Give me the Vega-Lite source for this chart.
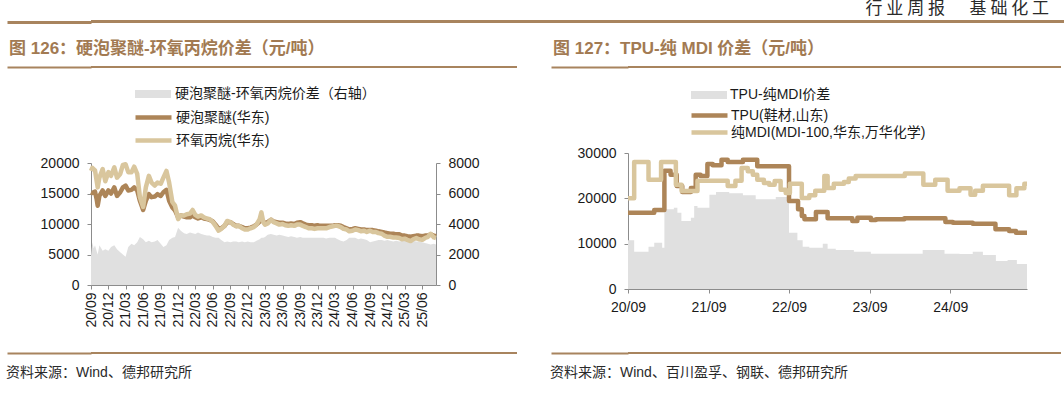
{
"$schema": "https://vega.github.io/schema/vega-lite/v6.json",
"background": "white",
"padding": {"left": 5, "right": 0, "top": 0, "bottom": 0},
"config": {
  "font": "Liberation Sans, Noto Sans CJK SC",
  "view": {"stroke": null},
  "axis": {"domainColor": "#8c8c8c", "tickColor": "#8c8c8c", "labelColor": "#1a1a1a", "labelFont": "Liberation Sans, Noto Sans CJK SC", "labelFontSize": 14, "grid": false, "tickSize": 4, "domainWidth": 1},
  "legend": {"labelFont": "Liberation Sans, Noto Sans CJK SC", "labelFontSize": 14, "labelColor": "#1a1a1a", "labelLimit": 400}
},
"datasets": {
  "left": [
    {"d":"2020-09-01","pe":15200,"po":18700,"sp":1900},
    {"d":"2020-09-08","pe":15100,"po":19200,"sp":2800},
    {"d":"2020-09-15","pe":15200,"po":19000,"sp":2400},
    {"d":"2020-09-22","pe":15300,"po":18800,"sp":2600},
    {"d":"2020-10-01","pe":14000,"po":17000,"sp":2200},
    {"d":"2020-10-06","pe":13000,"po":16000,"sp":2000},
    {"d":"2020-10-15","pe":14600,"po":17600,"sp":2600},
    {"d":"2020-11-01","pe":15500,"po":19000,"sp":2250},
    {"d":"2020-11-15","pe":14600,"po":17000,"sp":2350},
    {"d":"2020-12-01","pe":15500,"po":18500,"sp":2250},
    {"d":"2020-12-15","pe":15000,"po":17900,"sp":2500},
    {"d":"2021-01-01","pe":16000,"po":19300,"sp":2600},
    {"d":"2021-01-15","pe":14600,"po":17600,"sp":2350},
    {"d":"2021-02-01","pe":15200,"po":18200,"sp":2150},
    {"d":"2021-02-15","pe":16000,"po":19700,"sp":2000},
    {"d":"2021-03-01","pe":16300,"po":19800,"sp":1850},
    {"d":"2021-03-15","pe":15500,"po":18500,"sp":2500},
    {"d":"2021-04-01","pe":15600,"po":18500,"sp":2700},
    {"d":"2021-04-15","pe":16000,"po":19400,"sp":2600},
    {"d":"2021-05-01","pe":15500,"po":18200,"sp":2800},
    {"d":"2021-05-15","pe":13800,"po":14400,"sp":3150},
    {"d":"2021-06-01","pe":12300,"po":12800,"sp":3000},
    {"d":"2021-06-15","pe":13800,"po":16000,"sp":2800},
    {"d":"2021-07-01","pe":14900,"po":17900,"sp":2900},
    {"d":"2021-07-15","pe":14400,"po":16800,"sp":2800},
    {"d":"2021-08-01","pe":14500,"po":16300,"sp":2850},
    {"d":"2021-08-15","pe":14900,"po":16800,"sp":2950},
    {"d":"2021-09-01","pe":14600,"po":16600,"sp":2700},
    {"d":"2021-09-15","pe":15200,"po":17600,"sp":2500},
    {"d":"2021-10-01","pe":15600,"po":18700,"sp":2600},
    {"d":"2021-10-15","pe":13800,"po":16800,"sp":2950},
    {"d":"2021-11-01","pe":12700,"po":13600,"sp":3100},
    {"d":"2021-11-15","pe":12200,"po":13000,"sp":3150},
    {"d":"2021-12-01","pe":11100,"po":10800,"sp":3750},
    {"d":"2021-12-15","pe":11400,"po":11400,"sp":3550},
    {"d":"2022-01-01","pe":11200,"po":11400,"sp":3400},
    {"d":"2022-01-15","pe":11100,"po":11600,"sp":3350},
    {"d":"2022-02-01","pe":11100,"po":11700,"sp":3450},
    {"d":"2022-02-15","pe":11400,"po":12300,"sp":3400},
    {"d":"2022-03-01","pe":11100,"po":11500,"sp":3350},
    {"d":"2022-03-15","pe":10900,"po":11200,"sp":3450},
    {"d":"2022-04-01","pe":11100,"po":11400,"sp":3350},
    {"d":"2022-04-15","pe":10900,"po":11100,"sp":3300},
    {"d":"2022-05-01","pe":10800,"po":10900,"sp":3250},
    {"d":"2022-05-15","pe":10700,"po":10800,"sp":3250},
    {"d":"2022-06-01","pe":10400,"po":10300,"sp":3150},
    {"d":"2022-06-15","pe":9900,"po":9700,"sp":3100},
    {"d":"2022-07-01","pe":9200,"po":8900,"sp":3100},
    {"d":"2022-07-15","pe":9300,"po":9200,"sp":2950},
    {"d":"2022-08-01","pe":9700,"po":9700,"sp":2800},
    {"d":"2022-08-15","pe":10300,"po":10500,"sp":2850},
    {"d":"2022-09-01","pe":10300,"po":10300,"sp":2800},
    {"d":"2022-09-15","pe":10000,"po":9900,"sp":2850},
    {"d":"2022-10-01","pe":9700,"po":9600,"sp":2850},
    {"d":"2022-10-15","pe":9700,"po":9700,"sp":2800},
    {"d":"2022-11-01","pe":9500,"po":9300,"sp":2850},
    {"d":"2022-11-15","pe":9300,"po":9100,"sp":2800},
    {"d":"2022-12-01","pe":9300,"po":9100,"sp":2850},
    {"d":"2022-12-15","pe":9400,"po":9300,"sp":2800},
    {"d":"2023-01-01","pe":9600,"po":9500,"sp":2800},
    {"d":"2023-01-15","pe":9900,"po":9900,"sp":2900},
    {"d":"2023-02-01","pe":10400,"po":10800,"sp":3000},
    {"d":"2023-02-10","pe":10800,"po":11900,"sp":3100},
    {"d":"2023-02-20","pe":10400,"po":10300,"sp":3100},
    {"d":"2023-03-01","pe":10100,"po":9900,"sp":3150},
    {"d":"2023-03-15","pe":10300,"po":10100,"sp":3300},
    {"d":"2023-04-01","pe":10700,"po":10700,"sp":3350},
    {"d":"2023-04-15","pe":10400,"po":10300,"sp":3300},
    {"d":"2023-05-01","pe":10300,"po":10100,"sp":3250},
    {"d":"2023-05-15","pe":10200,"po":9900,"sp":3300},
    {"d":"2023-06-01","pe":10200,"po":10000,"sp":3250},
    {"d":"2023-06-15","pe":10100,"po":9800,"sp":3200},
    {"d":"2023-07-01","pe":10000,"po":9700,"sp":3150},
    {"d":"2023-07-15","pe":10100,"po":9800,"sp":3200},
    {"d":"2023-08-01","pe":10000,"po":9700,"sp":3150},
    {"d":"2023-08-15","pe":10200,"po":9900,"sp":3100},
    {"d":"2023-09-01","pe":10300,"po":9900,"sp":3150},
    {"d":"2023-09-15","pe":10100,"po":9700,"sp":3100},
    {"d":"2023-10-01","pe":9900,"po":9500,"sp":3100},
    {"d":"2023-10-15","pe":9800,"po":9300,"sp":3100},
    {"d":"2023-11-01","pe":9800,"po":9300,"sp":3100},
    {"d":"2023-11-15","pe":9700,"po":9200,"sp":3100},
    {"d":"2023-12-01","pe":9800,"po":9300,"sp":3100},
    {"d":"2023-12-15","pe":9700,"po":9300,"sp":3100},
    {"d":"2024-01-01","pe":9700,"po":9300,"sp":3100},
    {"d":"2024-01-15","pe":9700,"po":9300,"sp":3050},
    {"d":"2024-02-01","pe":9700,"po":9500,"sp":3100},
    {"d":"2024-02-15","pe":9700,"po":9600,"sp":3100},
    {"d":"2024-03-01","pe":9800,"po":9700,"sp":3100},
    {"d":"2024-03-15","pe":9800,"po":9700,"sp":3000},
    {"d":"2024-04-01","pe":9700,"po":9500,"sp":2900},
    {"d":"2024-04-15","pe":9500,"po":9200,"sp":2850},
    {"d":"2024-05-01","pe":9300,"po":9100,"sp":2950},
    {"d":"2024-05-15","pe":9100,"po":8800,"sp":3100},
    {"d":"2024-06-01","pe":9200,"po":8900,"sp":3100},
    {"d":"2024-06-15","pe":9300,"po":9100,"sp":3100},
    {"d":"2024-07-01","pe":9200,"po":9000,"sp":3000},
    {"d":"2024-07-15","pe":9100,"po":8800,"sp":3050},
    {"d":"2024-08-01","pe":9100,"po":8900,"sp":3000},
    {"d":"2024-08-15","pe":9000,"po":8700,"sp":2950},
    {"d":"2024-09-01","pe":9000,"po":8900,"sp":2800},
    {"d":"2024-09-15","pe":9000,"po":8700,"sp":2850},
    {"d":"2024-10-01","pe":8900,"po":8700,"sp":2900},
    {"d":"2024-10-15","pe":8800,"po":8500,"sp":2950},
    {"d":"2024-11-01","pe":8700,"po":8400,"sp":2950},
    {"d":"2024-11-15","pe":8600,"po":8100,"sp":2900},
    {"d":"2024-12-01","pe":8500,"po":7900,"sp":2950},
    {"d":"2024-12-15","pe":8400,"po":7900,"sp":2900},
    {"d":"2025-01-01","pe":8400,"po":7800,"sp":2850},
    {"d":"2025-01-15","pe":8300,"po":7800,"sp":2900},
    {"d":"2025-02-01","pe":8300,"po":7700,"sp":2850},
    {"d":"2025-02-15","pe":8100,"po":7500,"sp":2900},
    {"d":"2025-03-01","pe":8100,"po":7600,"sp":2950},
    {"d":"2025-03-15","pe":8000,"po":7400,"sp":2900},
    {"d":"2025-04-01","pe":7900,"po":7200,"sp":2850},
    {"d":"2025-04-15","pe":8000,"po":7500,"sp":2900},
    {"d":"2025-05-01","pe":8100,"po":7700,"sp":2850},
    {"d":"2025-05-15","pe":8100,"po":7500,"sp":2850},
    {"d":"2025-06-01","pe":8000,"po":7400,"sp":2800},
    {"d":"2025-06-15","pe":8100,"po":7700,"sp":2750},
    {"d":"2025-07-01","pe":8100,"po":7900,"sp":2700},
    {"d":"2025-07-15","pe":8300,"po":8400,"sp":2650},
    {"d":"2025-08-01","pe":8100,"po":7800,"sp":2700},
    {"d":"2025-08-12","pe":8000,"po":7700,"sp":2650}
  ],
  "tpu": [
    {"d":"2020-09-01","v":16800},{"d":"2020-12-29","v":17400},{"d":"2021-02-13","v":26100},{"d":"2021-03-13","v":25200},
    {"d":"2021-04-10","v":22700},{"d":"2021-05-05","v":21400},{"d":"2021-06-13","v":22300},{"d":"2021-07-05","v":25200},
    {"d":"2021-07-27","v":24900},{"d":"2021-08-27","v":27600},{"d":"2021-09-20","v":27300},{"d":"2021-10-30","v":28500},
    {"d":"2021-11-27","v":28000},{"d":"2022-02-04","v":28500},{"d":"2022-04-10","v":27100},{"d":"2022-09-01","v":19400},
    {"d":"2022-10-12","v":17600},{"d":"2022-10-29","v":16100},{"d":"2022-11-10","v":15400},{"d":"2023-01-01","v":17000},
    {"d":"2023-02-23","v":15600},{"d":"2023-06-15","v":15000},{"d":"2023-07-08","v":15700},{"d":"2023-09-07","v":15200},
    {"d":"2023-09-30","v":15400},{"d":"2024-02-06","v":15600},{"d":"2024-08-10","v":14800},{"d":"2024-09-13","v":14600},
    {"d":"2024-12-12","v":14400},{"d":"2025-03-25","v":13200},{"d":"2025-05-26","v":12800},{"d":"2025-06-26","v":12400},
    {"d":"2025-08-15","v":12400}
  ],
  "mdi": [
    {"d":"2020-09-01","v":20000},{"d":"2020-09-29","v":28000},{"d":"2020-12-03","v":24100},{"d":"2021-01-29","v":28000},
    {"d":"2021-04-06","v":23000},{"d":"2021-05-02","v":21600},{"d":"2021-07-13","v":23900},{"d":"2021-11-27","v":22700},
    {"d":"2022-01-01","v":23900},{"d":"2022-01-29","v":26700},{"d":"2022-02-26","v":26000},{"d":"2022-03-21","v":25200},
    {"d":"2022-04-10","v":24100},{"d":"2022-05-10","v":23400},{"d":"2022-06-03","v":23000},{"d":"2022-06-28","v":23800},
    {"d":"2022-07-25","v":21900},{"d":"2022-08-17","v":21200},{"d":"2022-09-05","v":23200},{"d":"2022-10-29","v":20100},
    {"d":"2022-12-02","v":20700},{"d":"2022-12-29","v":21700},{"d":"2023-02-08","v":24900},{"d":"2023-02-23","v":22300},
    {"d":"2023-03-23","v":23200},{"d":"2023-05-08","v":23600},{"d":"2023-05-30","v":24400},{"d":"2023-06-30","v":24900},
    {"d":"2024-02-08","v":25500},{"d":"2024-05-02","v":23000},{"d":"2024-06-25","v":24100},{"d":"2024-08-20","v":21700},
    {"d":"2024-10-13","v":22200},{"d":"2024-12-02","v":20800},{"d":"2024-12-23","v":21700},{"d":"2025-01-27","v":22800},
    {"d":"2025-05-26","v":20700},{"d":"2025-06-28","v":22200},{"d":"2025-08-03","v":23200},{"d":"2025-08-15","v":23200}
  ],
  "gap": [
    {"d":"2020-09-01","v":10750},{"d":"2020-09-29","v":8200},{"d":"2020-12-03","v":9300},{"d":"2020-12-29","v":10200},
    {"d":"2021-02-03","v":9100},{"d":"2021-02-13","v":17600},{"d":"2021-03-28","v":17900},{"d":"2021-04-13","v":16800},
    {"d":"2021-05-01","v":15000},{"d":"2021-06-13","v":15700},{"d":"2021-06-28","v":18300},{"d":"2021-07-13","v":17900},
    {"d":"2021-09-05","v":20800},{"d":"2021-10-05","v":21400},{"d":"2021-12-04","v":21100},{"d":"2022-02-04","v":20700},
    {"d":"2022-04-03","v":19800},{"d":"2022-07-03","v":20300},{"d":"2022-09-01","v":12400},{"d":"2022-10-09","v":10750},
    {"d":"2022-11-02","v":9300},{"d":"2022-12-02","v":9100},{"d":"2023-02-01","v":10000},{"d":"2023-02-23","v":8900},
    {"d":"2023-04-01","v":8600},{"d":"2023-06-22","v":8200},{"d":"2023-09-07","v":7800},{"d":"2024-04-29","v":8600},
    {"d":"2024-08-06","v":7800},{"d":"2024-10-13","v":7700},{"d":"2024-12-12","v":8200},{"d":"2025-01-27","v":7500},
    {"d":"2025-03-27","v":6200},{"d":"2025-05-19","v":6400},{"d":"2025-06-30","v":5500},{"d":"2025-08-15","v":5500}
  ]
},
"title": {"text": "行 业 周 报 　 基 础 化 工", "anchor": "end", "fontSize": 17, "fontWeight": "normal", "color": "#2a2a2a", "font": "Noto Sans CJK SC", "offset": 8, "dx": -17, "dy": 6},
"spacing": 16,
"vconcat": [
  {"data": {"values": []}, "mark": "rule", "width": 975, "height": 3, "view": {"fill": "#a8845e", "stroke": null},
   "encoding": {"y": {"field": "v", "type": "quantitative", "scale": {"domain": [0, 1]},
     "axis": {"title": null, "values": [0.5], "tickSize": 84, "tickWidth": 3, "tickColor": "#a8845e", "labels": false, "domain": false}}}},
  {"spacing": 33,
   "resolve": {"scale": {"x": "independent", "y": "independent", "fill": "independent", "stroke": "independent"}},
   "hconcat": [
    {"spacing": 18, "vconcat": [
      {"spacing": 88, "vconcat": [
        {"data": {"values": []}, "mark": "rule", "width": 426, "height": 2, "view": {"fill": "#a8845e", "stroke": null},
         "encoding": {"y": {"field": "v", "type": "quantitative", "scale": {"domain": [0, 1]},
           "axis": {"title": null, "values": [0.5], "tickSize": 84, "tickWidth": 2, "tickColor": "#a8845e", "labels": false, "domain": false}}},
         "title": {"text": "图 126：硬泡聚醚-环氧丙烷价差（元/吨）", "anchor": "start", "frame": "bounds", "dx": 3, "fontSize": 17, "fontWeight": "bold", "color": "#a27a52", "font": "Liberation Sans, Noto Sans CJK SC", "offset": 8}},
        {"width": 345, "height": 122,
         "data": {"name": "left"},
         "encoding": {"x": {"field": "d", "type": "temporal",
            "scale": {"type": "utc", "domain": [{"utc": true, "year": 2020, "month": 9, "date": 1}, {"utc": true, "year": 2025, "month": 8, "date": 12}]},
            "axis": {"title": null, "labelAngle": 270, "labelOverlap": false, "labelFlush": false, "labelPadding": 3, "minExtent": 49,
              "labelExpr": "utcFormat(datum.value, '%y/%m')",
              "values": [
                {"utc": true, "year": 2020, "month": 9, "date": 1}, {"utc": true, "year": 2020, "month": 12, "date": 1},
                {"utc": true, "year": 2021, "month": 3, "date": 1}, {"utc": true, "year": 2021, "month": 6, "date": 1},
                {"utc": true, "year": 2021, "month": 9, "date": 1}, {"utc": true, "year": 2021, "month": 12, "date": 1},
                {"utc": true, "year": 2022, "month": 3, "date": 1}, {"utc": true, "year": 2022, "month": 6, "date": 1},
                {"utc": true, "year": 2022, "month": 9, "date": 1}, {"utc": true, "year": 2022, "month": 12, "date": 1},
                {"utc": true, "year": 2023, "month": 3, "date": 1}, {"utc": true, "year": 2023, "month": 6, "date": 1},
                {"utc": true, "year": 2023, "month": 9, "date": 1}, {"utc": true, "year": 2023, "month": 12, "date": 1},
                {"utc": true, "year": 2024, "month": 3, "date": 1}, {"utc": true, "year": 2024, "month": 6, "date": 1},
                {"utc": true, "year": 2024, "month": 9, "date": 1}, {"utc": true, "year": 2024, "month": 12, "date": 1},
                {"utc": true, "year": 2025, "month": 3, "date": 1}, {"utc": true, "year": 2025, "month": 6, "date": 1}
              ]}}},
         "layer": [
           {"mark": {"type": "area", "opacity": 1},
            "encoding": {
              "y": {"field": "sp", "type": "quantitative", "scale": {"domain": [0, 8000]},
                    "axis": {"orient": "right", "title": null, "format": "d", "values": [0, 2000, 4000, 6000, 8000], "labelPadding": 8}},
              "fill": {"datum": "硬泡聚醚-环氧丙烷价差（右轴）", "scale": {"range": ["#e0e0e0"]},
                       "legend": {"title": null, "orient": "none", "legendX": 55, "legendY": 21, "symbolType": "M-3.6,-0.8H3.6V0.8H-3.6Z", "symbolSize": 100, "symbolStrokeWidth": 0, "labelOffset": 15}}}},
           {"mark": {"type": "line", "strokeWidth": 4.5, "strokeJoin": "round"},
            "encoding": {
              "y": {"field": "pe", "type": "quantitative", "scale": {"domain": [0, 20000]},
                    "axis": {"title": null, "format": "d", "values": [0, 5000, 10000, 15000, 20000], "labelPadding": 8, "minExtent": 84}},
              "stroke": {"datum": "硬泡聚醚(华东)", "scale": {"domain": ["硬泡聚醚(华东)", "环氧丙烷(华东)"], "range": ["#ad8558", "#d9c69d"]},
                         "legend": {"title": null, "orient": "none", "legendX": 55, "legendY": 44, "rowPadding": 4, "symbolType": "M-3.6,0H3.6", "symbolSize": 100, "symbolStrokeWidth": 4.5, "labelOffset": 15}}}},
           {"mark": {"type": "line", "strokeWidth": 4.5, "strokeJoin": "round"},
            "encoding": {
              "y": {"field": "po", "type": "quantitative", "scale": {"domain": [0, 20000]}, "axis": null},
              "stroke": {"datum": "环氧丙烷(华东)"}}}
         ],
         "resolve": {"scale": {"y": "independent"}}
        }
      ]},
      {"data": {"values": []}, "mark": "rule", "width": 426, "height": 2, "view": {"fill": "#a8845e", "stroke": null},
       "encoding": {"y": {"field": "v", "type": "quantitative", "scale": {"domain": [0, 1]},
         "axis": {"title": null, "values": [0.5], "tickSize": 84, "tickWidth": 2, "tickColor": "#a8845e", "labels": false, "domain": false}}},
       "title": {"text": "资料来源：Wind、德邦研究所", "orient": "bottom", "anchor": "start", "frame": "bounds", "fontSize": 14, "fontWeight": "normal", "color": "#2a2a2a", "font": "Liberation Sans, Noto Sans CJK SC", "offset": 12}}
    ]},
    {"spacing": 16, "vconcat": [
      {"spacing": 78, "vconcat": [
        {"data": {"values": []}, "mark": "rule", "width": 433, "height": 2, "view": {"fill": "#a8845e", "stroke": null},
         "encoding": {"y": {"field": "v", "type": "quantitative", "scale": {"domain": [0, 1]},
           "axis": {"title": null, "values": [0.5], "tickSize": 77, "tickWidth": 2, "tickColor": "#a8845e", "labels": false, "domain": false}}},
         "title": {"text": "图 127：TPU-纯 MDI 价差（元/吨）", "anchor": "start", "frame": "bounds", "dx": 3, "fontSize": 17, "fontWeight": "bold", "color": "#a27a52", "font": "Liberation Sans, Noto Sans CJK SC", "offset": 8}},
        {"width": 399, "height": 136,
         "encoding": {"x": {"field": "d", "type": "temporal",
            "scale": {"type": "utc", "domain": [{"utc": true, "year": 2020, "month": 9, "date": 1}, {"utc": true, "year": 2025, "month": 8, "date": 15}]},
            "axis": {"title": null, "labelAngle": 0, "labelOverlap": false, "labelFlush": false, "labelPadding": 7, "minExtent": 47,
              "labelExpr": "utcFormat(datum.value, '%y/%m')",
              "values": [
                {"utc": true, "year": 2020, "month": 9, "date": 1}, {"utc": true, "year": 2021, "month": 9, "date": 1},
                {"utc": true, "year": 2022, "month": 9, "date": 1}, {"utc": true, "year": 2023, "month": 9, "date": 1},
                {"utc": true, "year": 2024, "month": 9, "date": 1}
              ]}}},
         "layer": [
           {"data": {"name": "gap"},
            "mark": {"type": "area", "opacity": 1, "interpolate": "step-after"},
            "encoding": {
              "y": {"field": "v", "type": "quantitative", "scale": {"domain": [0, 30000]},
                    "axis": {"title": null, "format": "d", "values": [0, 5000, 10000, 15000, 20000, 25000, 30000], "labelPadding": 8, "minExtent": 77}},
              "fill": {"datum": "TPU-纯MDI价差", "scale": {"range": ["#e0e0e0"]},
                       "legend": {"title": null, "orient": "none", "legendX": 74, "legendY": 22, "symbolType": "M-3.6,-0.8H3.6V0.8H-3.6Z", "symbolSize": 100, "symbolStrokeWidth": 0, "labelOffset": 14}}}},
           {"data": {"name": "tpu"},
            "mark": {"type": "line", "strokeWidth": 4.5, "interpolate": "step-after", "strokeJoin": "round"},
            "encoding": {
              "y": {"field": "v", "type": "quantitative"},
              "stroke": {"datum": "TPU(鞋材,山东)", "scale": {"domain": ["TPU(鞋材,山东)", "纯MDI(MDI-100,华东,万华化学)"], "range": ["#ad8558", "#d9c69d"]},
                         "legend": {"title": null, "orient": "none", "legendX": 74, "legendY": 42, "rowPadding": -2, "symbolType": "M-3.6,0H3.6", "symbolSize": 100, "symbolStrokeWidth": 4.5, "labelOffset": 14}}}},
           {"data": {"name": "mdi"},
            "mark": {"type": "line", "strokeWidth": 4.5, "interpolate": "step-after", "strokeJoin": "round"},
            "encoding": {
              "y": {"field": "v", "type": "quantitative"},
              "stroke": {"datum": "纯MDI(MDI-100,华东,万华化学)"}}}
         ]
        }
      ]},
      {"data": {"values": []}, "mark": "rule", "width": 433, "height": 2, "view": {"fill": "#a8845e", "stroke": null},
       "encoding": {"y": {"field": "v", "type": "quantitative", "scale": {"domain": [0, 1]},
         "axis": {"title": null, "values": [0.5], "tickSize": 77, "tickWidth": 2, "tickColor": "#a8845e", "labels": false, "domain": false}}},
       "title": {"text": "资料来源：Wind、百川盈孚、钢联、德邦研究所", "orient": "bottom", "anchor": "start", "frame": "bounds", "fontSize": 14, "fontWeight": "normal", "color": "#2a2a2a", "font": "Liberation Sans, Noto Sans CJK SC", "offset": 12}}
    ]}
  ]}
]
}
